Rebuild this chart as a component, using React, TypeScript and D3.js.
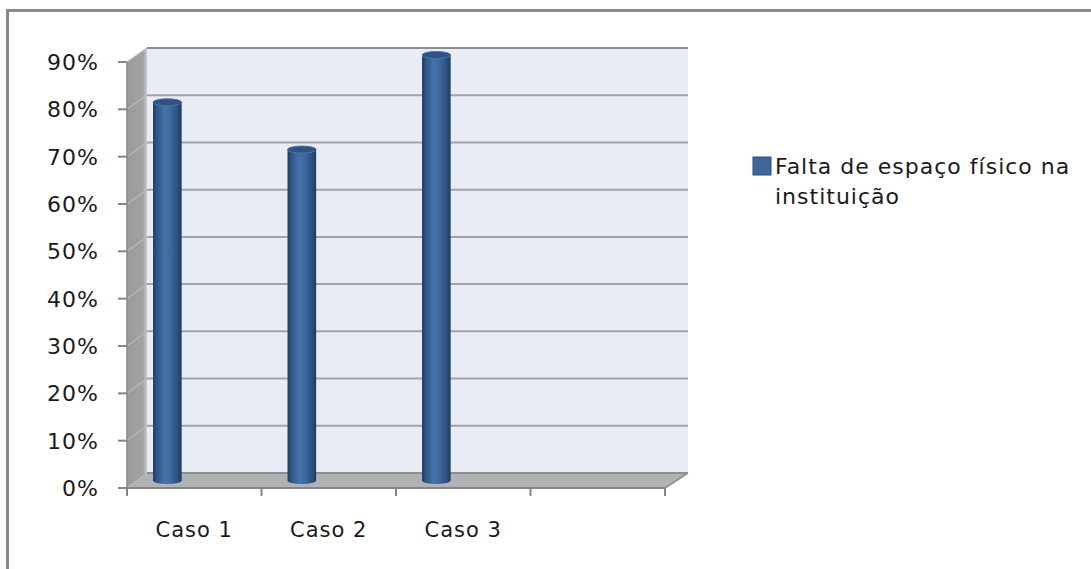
import React from "react";
import * as d3 from "d3";

const categories = ["Caso 1", "Caso 2", "Caso 3", ""];
const values: (number | null)[] = [0.8, 0.7, 0.9, null];
const yTicks = [0, 0.1, 0.2, 0.3, 0.4, 0.5, 0.6, 0.7, 0.8, 0.9];
const seriesName = ["Falta de espaço físico na", "instituição"];

const W = 1091;
const H = 569;

export default function App() {
  // front plane
  const frontX0 = 127, frontX1 = 665;
  const backX0 = 147, backX1 = 688;
  const yFront = d3.scaleLinear().domain([0, 0.9]).range([488, 62]);
  const yBack = d3.scaleLinear().domain([0, 0.9]).range([473, 48]);
  const yMid = d3.scaleLinear().domain([0, 0.9]).range([480.5, 55]);
  const x = d3.scaleBand<string>().domain(categories).range([frontX0, frontX1]).padding(0);
  const bw = x.bandwidth();
  const fmt = d3.format(".0%");
  const font = "'DejaVu Sans', sans-serif";
  const rx = 14.3;
  const ry = 3.5;

  const sideWall = `M${frontX0},${yFront(0.9)} L${backX0},${yBack(0.9)} L${backX0},${yBack(0)} L${frontX0},${yFront(0)} Z`;
  const floor = `M${frontX0},${yFront(0)} L${backX0},${yBack(0)} L${backX1},${yBack(0)} L${frontX1},${yFront(0)} Z`;

  return (
    <svg width={W} height={H} style={{ position: "absolute", left: 0, top: 0, background: "#fff" }}>
      <defs>
        <linearGradient id="cyl" x1="0" x2="1" y1="0" y2="0">
          <stop offset="0" stopColor="#1f3a60" />
          <stop offset="0.12" stopColor="#2f5384" />
          <stop offset="0.4" stopColor="#4472aa" />
          <stop offset="0.6" stopColor="#3f6aa0" />
          <stop offset="0.85" stopColor="#2d5080" />
          <stop offset="1" stopColor="#1f3a60" />
        </linearGradient>
        <linearGradient id="side" x1="0" x2="1" y1="0" y2="0">
          <stop offset="0" stopColor="#9a9a9a" />
          <stop offset="0.8" stopColor="#a2a2a2" />
          <stop offset="1" stopColor="#c9ccd2" />
        </linearGradient>
      </defs>

      {/* outer chart border (only top/left visible) */}
      <rect x={7.5} y={10.5} width={W + 20} height={H + 20} fill="none" stroke="#8a8a8a" strokeWidth={3} />

      {/* back wall */}
      <rect x={backX0} y={yBack(0.9)} width={backX1 - backX0} height={yBack(0) - yBack(0.9)} fill="#e8ecf4" />
      {/* side wall */}
      <path d={sideWall} fill="url(#side)" />
      {/* floor */}
      <path d={floor} fill="#b0b2b6" />

      {/* gridlines on back wall and side wall */}
      {yTicks.map((t) => (
        <g key={t}>
          {t > 0 && (
            <line x1={backX0} x2={backX1} y1={yBack(t)} y2={yBack(t)} stroke={t === 0.9 ? "#8c8c8c" : "#a3a3a3"} strokeWidth={2} />
          )}
          <line x1={frontX0} x2={backX0} y1={yFront(t)} y2={yBack(t)} stroke="#b8b8b8" strokeWidth={1.2} />
        </g>
      ))}
      {/* floor back edge */}
      <line x1={backX0} x2={backX1} y1={yBack(0)} y2={yBack(0)} stroke="#8e8e8e" strokeWidth={2} />

      {/* cylinders */}
      {categories.map((c, i) => {
        const v = values[i];
        if (v == null) return null;
        const cx = (x(c) as number) + bw * 0.3;
        const yt = yMid(v);
        const yb = yMid(0);
        const body = `M${cx - rx},${yt} L${cx - rx},${yb} A${rx},${ry} 0 0 0 ${cx + rx},${yb} L${cx + rx},${yt} Z`;
        return (
          <g key={c}>
            <path d={body} fill="url(#cyl)" />
            <ellipse cx={cx} cy={yt} rx={rx} ry={ry} fill="#2e5282" stroke="#4a74a8" strokeWidth={1} />
          </g>
        );
      })}

      {/* y axis line */}
      <line x1={frontX0} x2={frontX0} y1={yFront(0.9)} y2={yFront(0)} stroke="#8a8a8a" strokeWidth={1.5} />
      {/* x axis line */}
      <line x1={frontX0} x2={frontX1} y1={yFront(0)} y2={yFront(0)} stroke="#858585" strokeWidth={2} />
      {/* right floor edge */}
      <line x1={frontX1} x2={backX1} y1={yFront(0)} y2={yBack(0)} stroke="#8e8e8e" strokeWidth={1.5} />

      {/* y ticks and labels */}
      {yTicks.map((t) => (
        <g key={"yt" + t}>
          <line x1={118} x2={frontX0} y1={yFront(t)} y2={yFront(t)} stroke="#858585" strokeWidth={2} />
          <text x={99} y={yFront(t)} dy="0.36em" textAnchor="end" fontFamily={font} fontSize={22} letterSpacing={1} fill="#1a1a1a">
            {fmt(t)}
          </text>
        </g>
      ))}

      {/* x ticks and labels */}
      {[...categories.map((c) => x(c) as number), frontX1].map((p, i) => (
        <line key={"xt" + i} x1={p} x2={p} y1={yFront(0)} y2={yFront(0) + 8} stroke="#858585" strokeWidth={2} />
      ))}
      {categories.map((c) => (
        <text key={"xl" + c} x={(x(c) as number) + bw / 2} y={537} textAnchor="middle" fontFamily={font} fontSize={21} letterSpacing={1} fill="#1a1a1a">
          {c}
        </text>
      ))}

      {/* legend */}
      <rect x={753} y={157} width={18} height={18} fill="#3e6699" stroke="#2c4d78" strokeWidth={1} />
      {seriesName.map((s, i) => (
        <text key={s} x={775} y={174 + i * 30} fontFamily={font} fontSize={22} letterSpacing={1} fill="#1a1a1a">
          {s}
        </text>
      ))}
    </svg>
  );
}
